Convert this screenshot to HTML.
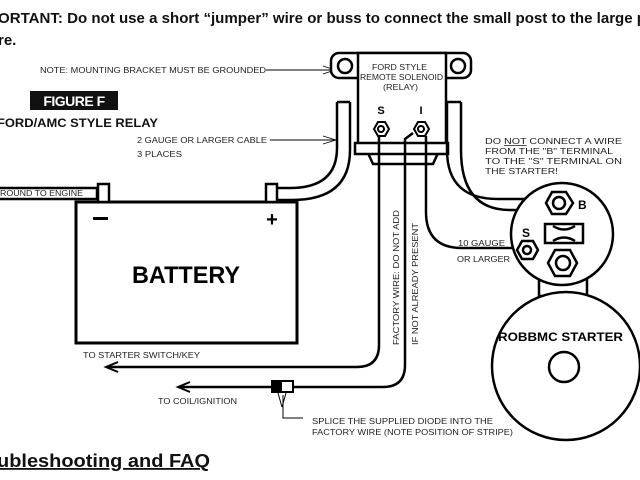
<!DOCTYPE html>
<html><head><meta charset="utf-8"><style>
html,body{margin:0;padding:0;background:#fff;width:640px;height:480px;overflow:hidden}
svg{display:block}
.t{font-family:"Liberation Sans",Arial,sans-serif;}
</style></head><body>
<svg width="640" height="480" viewBox="0 0 640 480" xmlns="http://www.w3.org/2000/svg">
<rect width="640" height="480" fill="#fff"/>
<text class="t" x="-2" y="23" font-size="15" font-weight="bold" fill="#111" textLength="648" lengthAdjust="spacingAndGlyphs">ORTANT: Do not use a short “jumper” wire or buss to connect the small post to the large p</text>
<text class="t" x="-2" y="45" font-size="15" font-weight="bold" fill="#111">re.</text>

<text class="t" x="40" y="73" font-size="8" fill="#222" textLength="226" lengthAdjust="spacingAndGlyphs">NOTE: MOUNTING BRACKET MUST BE GROUNDED</text>
<line x1="266" y1="70" x2="333" y2="70" stroke="#000" stroke-width="1"/>
<path d="M323 66 L335 70 L323 74" fill="none" stroke="#000" stroke-width="0.8"/>
<rect x="30" y="91" width="88" height="19" fill="#111"/>
<text class="t" x="74" y="106" font-size="14" font-weight="bold" fill="#fff" text-anchor="middle" letter-spacing="-0.5">FIGURE F</text>
<text class="t" x="-3" y="127" font-size="12" font-weight="bold" fill="#111" textLength="161" lengthAdjust="spacingAndGlyphs">FORD/AMC STYLE RELAY</text>
<text class="t" x="137" y="143" font-size="8" fill="#222" textLength="130" lengthAdjust="spacingAndGlyphs">2 GAUGE OR LARGER CABLE</text>
<text class="t" x="137" y="157" font-size="8" fill="#222" textLength="45" lengthAdjust="spacingAndGlyphs">3 PLACES</text>
<line x1="270" y1="140" x2="335" y2="140" stroke="#000" stroke-width="1"/>
<path d="M323 136 L336 140 L323 144" fill="none" stroke="#000" stroke-width="0.8"/>

<g stroke="#000" stroke-width="2.5" fill="#fff">
<rect x="331" y="53" width="140" height="25" rx="8"/>
<circle cx="345" cy="66" r="7"/>
<circle cx="458" cy="66" r="7"/>
<rect x="358" y="53" width="88" height="92"/>
<path d="M368 153 L438 153 L433 164 L373 164 Z"/>
<rect x="355" y="143" width="93" height="11"/>
</g>
<text class="t" x="372" y="70" font-size="8" fill="#222" textLength="55" lengthAdjust="spacingAndGlyphs">FORD STYLE</text>
<text class="t" x="360" y="80" font-size="8" fill="#222" textLength="83" lengthAdjust="spacingAndGlyphs">REMOTE SOLENOID</text>
<text class="t" x="383" y="90" font-size="8" fill="#222" textLength="35" lengthAdjust="spacingAndGlyphs">(RELAY)</text>
<text class="t" x="381" y="114" font-size="11" font-weight="bold" text-anchor="middle">S</text>
<text class="t" x="421" y="114" font-size="11" font-weight="bold" text-anchor="middle">I</text>
<g stroke="#000" stroke-width="2" fill="#fff">
<polygon points="374,129 378,122 385,122 389,129 385,136 378,136"/>
<circle cx="381" cy="129" r="3"/>
<polygon points="414,129 418,122 425,122 429,129 425,136 418,136"/>
<circle cx="421" cy="129" r="3"/>
</g>

<g fill="none" stroke="#000" stroke-width="2.5">
<path d="M337 102 L337 148 Q337 188 290 188 L278 188"/>
<path d="M350 102 L350 150 Q350 200 292 200 L278 200"/>
<path d="M337 102 L350 102"/>
<path d="M447 102 L447 150 Q447 200 500 199 L547 199"/>
<path d="M461 102 L461 150 Q461 210 510 210 L549 210"/>
<path d="M447 102 L461 102"/>
<path d="M0 188 L97 188 M0 199 L97 199 M97 188 L97 199"/>
</g>

<g fill="none" stroke="#000" stroke-width="2.5">
<path d="M379 136 L379 345 Q379 367 357 367 L108 367"/>
<path d="M413 133 L405 139 L405 365 Q405 387 383 387 L293 387 M272 387 L180 387"/>
<path d="M426 136 L426 212 Q426 248 462 248 L518 248"/>
</g>
<g fill="none" stroke="#000" stroke-width="2">
<path d="M118 362 L106 367 L118 372"/>
<path d="M190 382 L178 387 L190 392"/>
</g>
<rect x="272" y="381" width="21" height="11" fill="#fff" stroke="#000" stroke-width="2"/>
<rect x="272" y="381" width="10" height="11" fill="#000"/>
<path d="M278 393 L282 407 M286 393 L282 407 M283 395 L283 418 L303 418" fill="none" stroke="#000" stroke-width="1"/>
<text class="t" x="83" y="358" font-size="8" fill="#222" textLength="117" lengthAdjust="spacingAndGlyphs">TO STARTER SWITCH/KEY</text>
<text class="t" x="158" y="404" font-size="8" fill="#222" textLength="79" lengthAdjust="spacingAndGlyphs">TO COIL/IGNITION</text>
<text class="t" x="312" y="424" font-size="8" fill="#222" textLength="181" lengthAdjust="spacingAndGlyphs">SPLICE THE SUPPLIED DIODE INTO THE</text>
<text class="t" x="312" y="435" font-size="8" fill="#222" textLength="201" lengthAdjust="spacingAndGlyphs">FACTORY WIRE (NOTE POSITION OF STRIPE)</text>
<text class="t" font-size="8" fill="#222" textLength="135" lengthAdjust="spacingAndGlyphs" transform="translate(399,345) rotate(-90)">FACTORY WIRE: DO NOT ADD</text>
<text class="t" font-size="8" fill="#222" textLength="122" lengthAdjust="spacingAndGlyphs" transform="translate(418,345) rotate(-90)">IF NOT ALREADY PRESENT</text>

<rect x="76" y="202" width="221" height="141" fill="#fff" stroke="#000" stroke-width="3"/>
<rect x="98" y="184" width="11" height="18" fill="#fff" stroke="#000" stroke-width="2.5"/>
<rect x="266" y="184" width="11" height="18" fill="#fff" stroke="#000" stroke-width="2.5"/>
<text class="t" x="0" y="196" font-size="8" fill="#222" textLength="83" lengthAdjust="spacingAndGlyphs">ROUND TO ENGINE</text>
<rect x="93" y="217" width="15" height="3" fill="#000"/>
<text class="t" x="272" y="226" font-size="20" font-weight="bold" text-anchor="middle">+</text>
<text class="t" x="132" y="283" font-size="24" font-weight="bold" textLength="108" lengthAdjust="spacingAndGlyphs">BATTERY</text>

<g stroke="#000" stroke-width="2.5" fill="#fff">
<rect x="539" y="276" width="48" height="20"/>
<circle cx="566" cy="366" r="74"/>
<circle cx="562" cy="234" r="51"/>
<circle cx="564" cy="367" r="15"/>
<polygon points="546,203 552,192 566,192 573,203 566,214 552,214"/>
<circle cx="559" cy="203" r="6"/>
<path d="M545 224 L583 224 L583 243 L545 243 Z M553 226 Q564 233 575 226 M553 241 Q564 234 575 241" />
<polygon points="517,250 522,241 533,241 538,250 533,259 522,259"/>
<circle cx="527" cy="250" r="4"/>
<polygon points="548,263 555,250 570,250 577,263 570,276 555,276"/>
<circle cx="563" cy="263" r="7"/>
</g>
<text class="t" x="578" y="209" font-size="12" font-weight="bold">B</text>
<text class="t" x="522" y="237" font-size="12" font-weight="bold">S</text>
<text class="t" x="498" y="341" font-size="12" font-weight="bold" textLength="125" lengthAdjust="spacingAndGlyphs">ROBBMC STARTER</text>
<text class="t" x="458" y="246" font-size="8" fill="#222" textLength="47" lengthAdjust="spacingAndGlyphs">10 GAUGE</text>
<text class="t" x="457" y="262" font-size="8" fill="#222" textLength="53" lengthAdjust="spacingAndGlyphs">OR LARGER</text>
<text class="t" x="485" y="144" font-size="8" fill="#222" textLength="137" lengthAdjust="spacingAndGlyphs">DO <tspan text-decoration="underline">NOT</tspan> CONNECT A WIRE</text>
<text class="t" x="485" y="154" font-size="8" fill="#222" textLength="128" lengthAdjust="spacingAndGlyphs">FROM THE "B" TERMINAL</text>
<text class="t" x="485" y="164" font-size="8" fill="#222" textLength="137" lengthAdjust="spacingAndGlyphs">TO THE "S" TERMINAL ON</text>
<text class="t" x="485" y="174" font-size="8" fill="#222" textLength="73" lengthAdjust="spacingAndGlyphs">THE STARTER!</text>

<text class="t" x="-3" y="467" font-size="18" font-weight="bold" fill="#111" text-decoration="underline" textLength="213" lengthAdjust="spacingAndGlyphs">ubleshooting and FAQ</text>
</svg>
</body></html>
